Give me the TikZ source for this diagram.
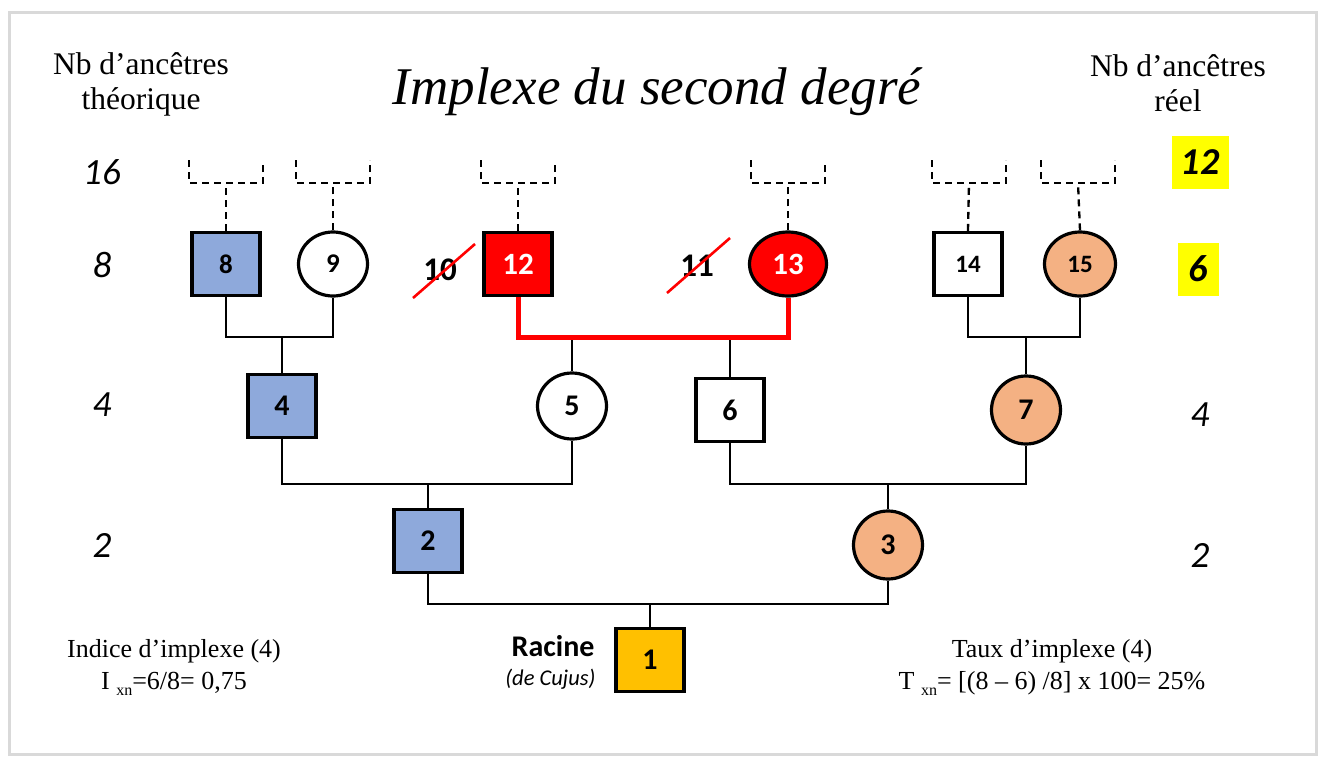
\documentclass[tikz,border=0pt]{standalone}
\usepackage{fontspec}
\setmainfont{Liberation Serif}
\newfontfamily\calib{Carlito}
\usetikzlibrary{shapes.geometric}
\definecolor{pblue}{HTML}{8EA9DB}
\definecolor{psalmon}{HTML}{F4B183}
\definecolor{pgold}{HTML}{FFC000}
\definecolor{pyellow}{HTML}{FFFF00}
\newcommand\fsz[2]{\fontsize{#1}{#2}\selectfont}
\tikzset{
  male/.style={rectangle, draw, line width=3.2pt, minimum width=68pt, minimum height=63pt, inner sep=0pt, font=\calib\bfseries\fsz{30}{30}},
  female/.style={ellipse, draw, line width=3.2pt, minimum width=69pt, minimum height=64pt, inner sep=0pt, font=\calib\bfseries\fsz{30}{30}},
  link/.style={line width=2.5pt},
  redlink/.style={line width=5pt, red},
  dlink/.style={line width=2.3pt, dash pattern=on 7pt off 5pt},
  gen/.style={font=\calib\itshape\fsz{37}{37}},
  strike/.style={red, line width=2.6pt},
  hlbox/.style={fill=pyellow, inner sep=0pt, font=\calib\bfseries\itshape\fsz{38}{38}},
}
\begin{document}
\begin{tikzpicture}[x=1pt,y=-1pt]
\useasboundingbox (0,0) rectangle (1323,758);
\draw[gray!30, line width=3pt] (9,12) rectangle (1316,754);

% headers
\node[align=center, font=\fsz{31.5}{35}] (hl) at (141,84) {Nb d’ancêtres\\théorique};
\node[align=center, font=\fsz{31.5}{35}] (hr) at (1178,83) {Nb d’ancêtres\\réel};
\node[font=\itshape\fsz{53}{53}] (title) at (657,92) {Implexe du second degré};

% generation numbers
\node[gen] (g16) at (102,172) {16};
\node[gen] (g8) at (102,265) {8};
\node[gen] (g4) at (102,405) {4};
\node[gen] (g2) at (102,545) {2};
\node[hlbox, minimum width=57pt, minimum height=53pt] (r12) at (1200,162) {12};
\node[hlbox, minimum width=41pt, minimum height=53pt] (r6) at (1198,269) {6};
\node[gen] (r4) at (1200,415) {4};
\node[gen] (r2) at (1200,555) {2};

% persons
\node[male, fill=pblue, font=\calib\bfseries\fsz{27}{27}] (n8) at (226,264) {8};
\node[female, font=\calib\bfseries\fsz{27}{27}] (n9) at (333,264) {9};
\node[male, fill=red, text=white, font=\calib\bfseries\fsz{31}{31}] (n12) at (518,264) {12};
\node[female, fill=red, text=white, minimum width=77pt, font=\calib\bfseries\fsz{31}{31}] (n13) at (788,264) {13};
\node[male, font=\calib\bfseries\fsz{25}{25}] (n14) at (968,264) {14};
\node[female, fill=psalmon, minimum width=71pt, font=\calib\bfseries\fsz{25}{25}] (n15) at (1080,264) {15};
\node[male, fill=pblue] (n4) at (282,406) {4};
\node[female, minimum height=66pt] (n5) at (572,406) {5};
\node[male] (n6) at (730,410) {6};
\node[female, fill=psalmon, minimum height=68pt] (n7) at (1026,410) {7};
\node[male, fill=pblue] (n2) at (428,541) {2};
\node[female, fill=psalmon, minimum height=68pt] (n3) at (888,545) {3};
\node[male, fill=pgold] (n1) at (650,660) {1};

% crossed-out numbers
\node[font=\calib\bfseries\fsz{33}{33}] (x10) at (440,270) {10};
\node[font=\calib\bfseries\fsz{33}{33}] (x11) at (697,266) {11};
\draw[strike] ([shift={(-27,28)}]x10.center) -- ([shift={(35,-26)}]x10.center);
\draw[strike] ([shift={(-30,27)}]x11.center) -- ([shift={(33,-28)}]x11.center);

% junction coordinates
\coordinate (j89) at (282,337);
\coordinate (j1213) at (650,337);
\coordinate (c5) at (572,337);
\coordinate (c6) at (730,337);
\coordinate (j1415) at (1026,337);
\coordinate (j45) at (428,484);
\coordinate (j67) at (888,484);
\coordinate (j23) at (650,604);

% connectors
\draw[link] (n8.south) |- (j89) -| (n9.south);
\draw[link] (j89) -- (n4.north);
\draw[link] (c5) -- (n5.north);
\draw[link] (c6) -- (n6.north);
\draw[redlink] (n12.south) |- (j1213) -| (n13.south);
\draw[link] (n14.south) |- (j1415) -| (n15.south);
\draw[link] (j1415) -- (n7.north);
\draw[link] (n4.south) |- (j45) -| (n5.south);
\draw[link] (j45) -- (n2.north);
\draw[link] (n6.south) |- (j67) -| (n7.south);
\draw[link] (j67) -- (n3.north);
\draw[link] (n2.south) |- (j23) -| (n3.south);
\draw[link] (j23) -- (n1.north);

% dashed brackets
\coordinate (b8) at (226,183);
\coordinate (b9) at (333,183);
\coordinate (b12) at (518,183);
\coordinate (b13) at (788,183);
\coordinate (b14) at (969,183);
\coordinate (b15) at (1078,183);
\draw[dlink] (n8.north) -- (b8);
\draw[dlink] (n9.north) -- (b9);
\draw[dlink] (n12.north) -- (b12);
\draw[dlink] (n13.north) -- (b13);
\draw[dlink] (n14.north) -- (b14);
\draw[dlink] (n15.north) -- (b15);
\foreach \b in {b8,b9,b12,b13,b14,b15}
  \draw[dlink] ([shift={(-37,-23)}]\b) -- ([shift={(-37,0)}]\b) -- ([shift={(37,0)}]\b) -- ([shift={(37,-23)}]\b);

% root label
\node[font=\calib\bfseries\fsz{30}{30}, anchor=east] (racine) at (598,646) {Racine};
\node[font=\calib\itshape\fsz{22.5}{22.5}, anchor=east] (cujus) at (599,679) {(de Cujus)};

% bottom formulas
\node[align=center, font=\fsz{26}{32}] (ind) at (174,667) {Indice d’implexe (4)\\I {\fsz{16}{16}\raisebox{-6pt}{xn}}=6/8= 0,75};
\node[align=center, font=\fsz{26}{32}] (taux) at (1052,667) {Taux d’implexe (4)\\T {\fsz{16}{16}\raisebox{-6pt}{xn}}= [(8 – 6) /8] x 100= 25\%};
\end{tikzpicture}
\end{document}
